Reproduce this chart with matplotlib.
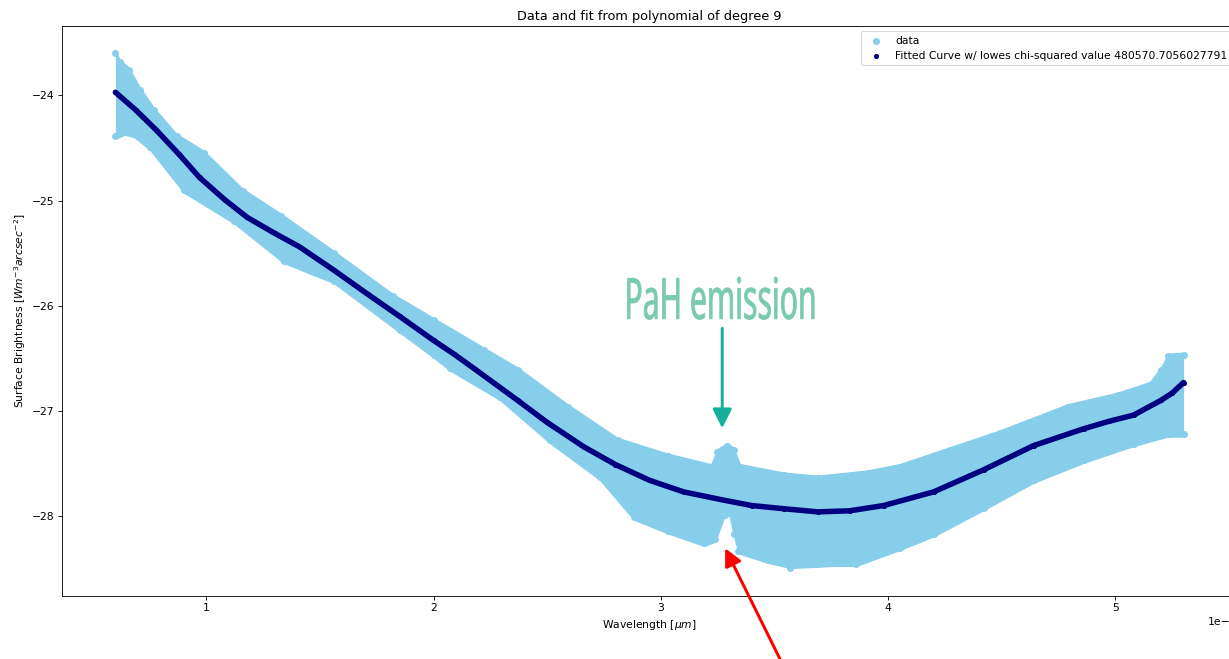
import matplotlib
matplotlib.use("Agg")
import matplotlib.pyplot as plt
import matplotlib.patheffects as pe
from matplotlib.transforms import Affine2D
import numpy as np

# ---- data (wavelength in micrometres) ----
upper_x = [0.60, 0.62, 0.66, 0.71, 0.77, 0.87, 0.99, 1.16, 1.33, 1.56, 1.82, 2.00,
           2.22, 2.37, 2.59, 2.81, 3.03, 3.22, 3.246, 3.29, 3.32, 3.35, 3.54, 3.69,
           3.91, 4.05, 4.27, 4.49, 4.79, 5.01, 5.15, 5.20, 5.23, 5.30]
upper_y = [-23.57, -23.65, -23.73, -23.92, -24.11, -24.36, -24.52, -24.88, -25.12, -25.47,
           -25.88, -26.11, -26.39, -26.58, -26.93, -27.25, -27.40, -27.50, -27.36, -27.30,
           -27.34, -27.50, -27.58, -27.61, -27.56, -27.50, -27.34, -27.18, -26.93, -26.82,
           -26.72, -26.58, -26.45, -26.44]

lower_x = [0.60, 0.64, 0.68, 0.75, 0.90, 1.12, 1.34, 1.56, 1.85, 2.00, 2.07, 2.29, 2.51,
           2.73, 2.88, 3.03, 3.19, 3.24, 3.28, 3.30, 3.32, 3.34, 3.47, 3.57, 3.76, 3.86,
           4.05, 4.20, 4.42, 4.64, 4.86, 5.08, 5.23, 5.30]
lower_y = [-24.42, -24.38, -24.40, -24.52, -24.93, -25.22, -25.60, -25.79, -26.26, -26.50,
           -26.62, -26.90, -27.31, -27.66, -28.04, -28.17, -28.29, -28.25, -28.02, -28.00,
           -28.20, -28.36, -28.45, -28.50, -28.48, -28.48, -28.33, -28.20, -27.95, -27.69,
           -27.50, -27.34, -27.25, -27.25]

outlier_x = [3.57, 3.63, 3.69, 3.76, 3.86]
outlier_y = [-28.52, -28.49, -28.49, -28.47, -28.49]

fit_x = [0.60, 0.69, 0.78, 0.88, 0.97, 1.08, 1.18, 1.30, 1.41, 1.56, 1.71, 1.85, 2.00,
         2.09, 2.18, 2.37, 2.50, 2.66, 2.80, 2.95, 3.10, 3.28, 3.40, 3.54, 3.69, 3.83,
         3.98, 4.20, 4.42, 4.64, 4.86, 4.97, 5.08, 5.20, 5.25, 5.30]
fit_y = [-23.97, -24.14, -24.33, -24.56, -24.78, -24.99, -25.16, -25.31, -25.44, -25.66,
         -25.89, -26.10, -26.33, -26.46, -26.60, -26.90, -27.11, -27.34, -27.51, -27.66,
         -27.77, -27.85, -27.90, -27.93, -27.96, -27.95, -27.90, -27.77, -27.56, -27.33,
         -27.17, -27.10, -27.04, -26.90, -26.83, -26.73]

chi2_label = "Fitted Curve w/ lowes chi-squared value 480570.7056027791"
title = "Data and fit from polynomial of degree 9"


class Squeeze(pe.AbstractPathEffect):
    """Draw text narrower (horizontal condensation about its centre), slightly emboldened."""

    def __init__(self, sx, stroke_lw, color):
        super().__init__()
        self.sx = sx
        self.stroke_lw = stroke_lw
        self.color = color

    def draw_path(self, renderer, gc, tpath, affine, rgbFace=None):
        ext = tpath.get_extents()
        cx = 0.5 * (ext.x0 + ext.x1)
        t = Affine2D().translate(-cx, 0).scale(self.sx, 1).translate(cx, 0) + affine
        gc0 = renderer.new_gc()
        gc0.copy_properties(gc)
        gc0.set_linewidth(self.stroke_lw)
        gc0.set_foreground(self.color)
        gc0.set_joinstyle("round")
        renderer.draw_path(gc0, tpath, t, rgbFace)
        gc0.restore()


SCALE = 1e-6
DPI = 77
PX = 72 / DPI  # points per pixel
fig = plt.figure(figsize=(1229 / DPI, 659 / DPI), dpi=DPI)
ax = fig.add_axes([62 / 1229, 63 / 659, (1237 - 62) / 1229, 570 / 659])

sky = "skyblue"
ux = np.array(upper_x) * SCALE
lx = np.array(lower_x) * SCALE
uy = np.array(upper_y)
ly = np.array(lower_y)

# data cloud: envelope filled, with markers at the read edge points
grid = np.union1d(ux, lx)
ax.fill_between(grid, np.interp(grid, lx, ly), np.interp(grid, ux, uy),
                color=sky, lw=0, zorder=1)
inset = 0.03
ax.scatter(np.concatenate([ux, lx, np.array(outlier_x) * SCALE]),
           np.concatenate([uy - inset, ly + inset, np.array(outlier_y) + inset]),
           s=(7 * PX) ** 2, color=sky, lw=0, zorder=1, label="data")

# fitted curve
fx = np.array(fit_x) * SCALE
ax.plot(fx, fit_y, color="navy", lw=5.5 * PX, solid_capstyle="round", zorder=3)
ax.scatter(fx, fit_y, s=(4 * PX) ** 2, color="navy", zorder=3, label=chi2_label)

ax.set_xlim(0.365 * SCALE, 5.535 * SCALE)
ax.set_ylim(-28.76, -23.34)
ax.set_title(title, fontsize=12)
ax.set_xlabel(r"Wavelength [$\mu m$]")
ax.set_ylabel(r"Surface Brightness [$Wm^{-3}arcsec^{-2}$]")
ax.legend(loc="upper right")

# annotations
pah_color = "#7acbae"
ax.text(3.262 * SCALE, -26.125, "PaH emission", ha="center", va="baseline",
        fontsize=57 * PX, color=pah_color,
        family=["Noto Sans", "DejaVu Sans"],
        path_effects=[Squeeze(0.53, 0.8 * PX, pah_color)])
ax.annotate("", xy=(3.27 * SCALE, -27.165), xytext=(3.27 * SCALE, -26.215),
            arrowprops=dict(arrowstyle="-|>", color="#14b09b", lw=3 * PX,
                            mutation_scale=40 * PX, shrinkA=0, shrinkB=0))
ax.annotate("", xy=(3.283 * SCALE, -28.306), xytext=(3.57 * SCALE, -29.56),
            annotation_clip=False,
            arrowprops=dict(arrowstyle="-|>", color="red", lw=3 * PX,
                            mutation_scale=36 * PX, shrinkA=0, shrinkB=0, clip_on=False))

fig.savefig("out.png", dpi=DPI)
